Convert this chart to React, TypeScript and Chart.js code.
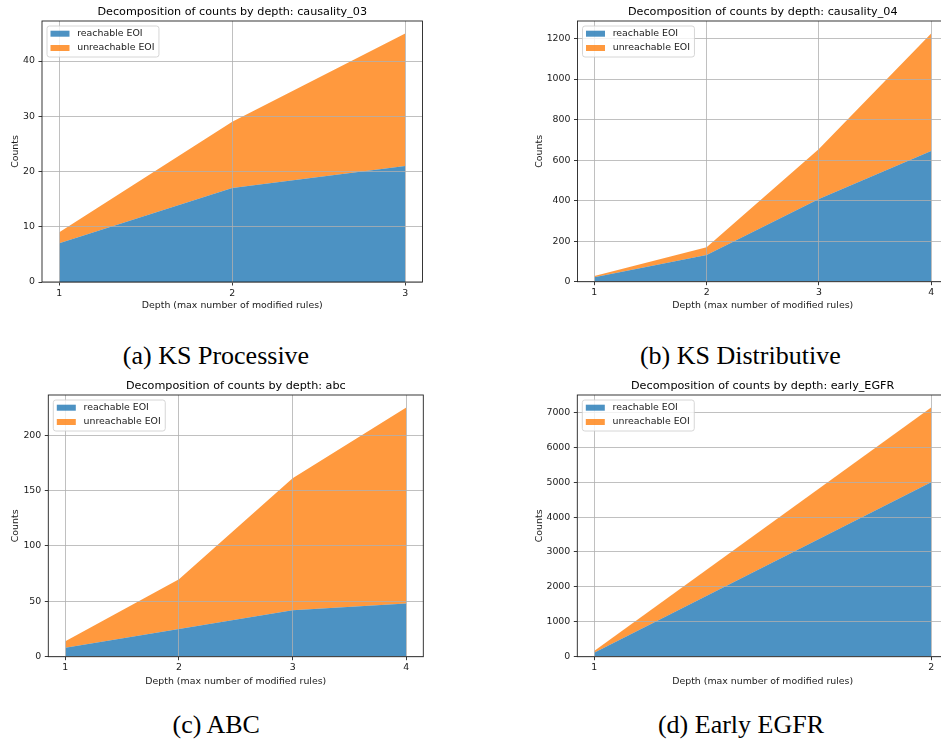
import React, { useEffect, useRef } from "react";
import { Chart, registerables } from "chart.js";

Chart.register(...registerables);

// ---------- data ----------
const SERIES_LABELS = ["reachable EOI", "unreachable EOI"];
const X_TITLE = "Depth (max number of modified rules)";
const Y_TITLE = "Counts";
const TITLE_PREFIX = "Decomposition of counts by depth: ";

// (a) KS Processive
const depthsA = [1, 2, 3];
const reachableA = [7, 17, 21];
const unreachableA = [2, 12, 24];
const yTicksA = [0, 10, 20, 30, 40];

// (b) KS Distributive
const depthsB = [1, 2, 3, 4];
const reachableB = [22, 132, 408, 645];
const unreachableB = [6, 38, 247, 580];
const yTicksB = [0, 200, 400, 600, 800, 1000, 1200];

// (c) ABC
const depthsC = [1, 2, 3, 4];
const reachableC = [8, 25, 42, 48];
const unreachableC = [6, 45, 119, 177];
const yTicksC = [0, 50, 100, 150, 200];

// (d) Early EGFR
const depthsD = [1, 2];
const reachableD = [115, 5000];
const unreachableD = [48, 2140];
const yTicksD = [0, 1000, 2000, 3000, 4000, 5000, 6000, 7000];

const MODEL_NAMES = ["causality_03", "causality_04", "abc", "early_EGFR"];
const CAPTIONS = ["(a) KS Processive", "(b) KS Distributive", "(c) ABC", "(d) Early EGFR"];

// ---------- styling / layout ----------
const FONT = '"DejaVu Sans", "Noto Sans", sans-serif';
const TXT = "#1a1a1a";
const BLUE = "rgba(31,119,180,0.8)";
const ORANGE = "rgba(255,127,14,0.8)";
const SMALL = 9.4;
const TITLE_SIZE = 11.2;
const CAP_SIZE = 26;

type Layout = {
  px: number; py: number; cw: number; ch: number;
  l: number; t: number; r: number; b: number;
  titleMid: number; xTitleMid: number; yTitleMid: number;
  capX: number; capBase: number;
};

const LAYOUTS: Layout[] = [
  { px: 0, py: 0, cw: 470, ch: 322, l: 42, t: 21, r: 422.5, b: 282, titleMid: 12.2, xTitleMid: 305.9, yTitleMid: 15.3, capX: 216, capBase: 364.5 },
  { px: 470, py: 0, cw: 480, ch: 322, l: 577.5, t: 21, r: 948, b: 281.7, titleMid: 12.2, xTitleMid: 305.9, yTitleMid: 539.1, capX: 740.3, capBase: 364.5 },
  { px: 0, py: 370, cw: 470, ch: 330, l: 48.3, t: 395, r: 423.3, b: 656.7, titleMid: 386.2, xTitleMid: 681.3, yTitleMid: 15.3, capX: 216.2, capBase: 733.8 },
  { px: 470, py: 370, cw: 480, ch: 330, l: 577.3, t: 395, r: 948, b: 656.7, titleMid: 386.2, xTitleMid: 681.3, yTitleMid: 539.1, capX: 741, capBase: 733.8 },
];

const PANEL_DATA = [
  { depths: depthsA, reachable: reachableA, unreachable: unreachableA, yTicks: yTicksA },
  { depths: depthsB, reachable: reachableB, unreachable: unreachableB, yTicks: yTicksB },
  { depths: depthsC, reachable: reachableC, unreachable: unreachableC, yTicks: yTicksC },
  { depths: depthsD, reachable: reachableD, unreachable: unreachableD, yTicks: yTicksD },
];

const framePlugin = {
  id: "frame",
  afterDraw(chart: any) {
    const { ctx, chartArea } = chart;
    ctx.save();
    ctx.strokeStyle = "#222";
    ctx.lineWidth = 0.9;
    ctx.strokeRect(chartArea.left, chartArea.top, chartArea.right - chartArea.left, chartArea.bottom - chartArea.top);
    ctx.restore();
  },
};

const legendPlugin = {
  id: "boxLegend",
  afterDraw(chart: any) {
    const { ctx, chartArea } = chart;
    const ds = chart.data.datasets;
    ctx.save();
    ctx.font = `${SMALL}px ${FONT}`;
    const tw = Math.max(...ds.map((d: any) => ctx.measureText(d.label).width));
    const x0 = chartArea.left + 5;
    const y0 = chartArea.top + 5;
    const patchW = 19;
    const w = 3.5 + patchW + 7.7 + tw + 4.5;
    const h = 31;
    const r = 2.5;
    ctx.beginPath();
    ctx.moveTo(x0 + r, y0);
    ctx.lineTo(x0 + w - r, y0);
    ctx.quadraticCurveTo(x0 + w, y0, x0 + w, y0 + r);
    ctx.lineTo(x0 + w, y0 + h - r);
    ctx.quadraticCurveTo(x0 + w, y0 + h, x0 + w - r, y0 + h);
    ctx.lineTo(x0 + r, y0 + h);
    ctx.quadraticCurveTo(x0, y0 + h, x0, y0 + h - r);
    ctx.lineTo(x0, y0 + r);
    ctx.quadraticCurveTo(x0, y0, x0 + r, y0);
    ctx.closePath();
    ctx.fillStyle = "rgba(255,255,255,0.8)";
    ctx.fill();
    ctx.strokeStyle = "#cccccc";
    ctx.lineWidth = 0.8;
    ctx.stroke();
    ds.forEach((d: any, i: number) => {
      const cy = y0 + 7.7 + i * 14.3;
      ctx.fillStyle = d.backgroundColor;
      ctx.fillRect(x0 + 3.5, cy - 3, patchW, 6);
      ctx.fillStyle = TXT;
      ctx.textBaseline = "middle";
      ctx.textAlign = "left";
      ctx.fillText(d.label, x0 + 3.5 + patchW + 7.7, cy);
    });
    ctx.restore();
  },
};

function Panel({ idx }: { idx: number }) {
  const ref = useRef<HTMLCanvasElement>(null);
  const L = LAYOUTS[idx];
  const D = PANEL_DATA[idx];

  useEffect(() => {
    const totals = D.reachable.map((v, i) => v + D.unreachable[i]);
    const n = D.depths.length;
    const span = D.depths[n - 1] - D.depths[0];
    const titleLH = TITLE_SIZE * 1.2;
    const smallLH = SMALL * 1.2;
    const canvasBottom = L.py + L.ch;

    const chart = new Chart(ref.current as HTMLCanvasElement, {
      type: "line",
      data: {
        datasets: [
          {
            label: SERIES_LABELS[0],
            data: D.depths.map((x, i) => ({ x, y: D.reachable[i] })),
            backgroundColor: BLUE,
            borderColor: "rgba(0,0,0,0)",
            borderWidth: 0,
            pointRadius: 0,
            tension: 0,
            fill: "origin",
          },
          {
            label: SERIES_LABELS[1],
            data: D.depths.map((x, i) => ({ x, y: D.unreachable[i] })),
            backgroundColor: ORANGE,
            borderColor: "rgba(0,0,0,0)",
            borderWidth: 0,
            pointRadius: 0,
            tension: 0,
            fill: "-1",
          },
        ],
      },
      options: {
        animation: false,
        responsive: false,
        devicePixelRatio: 1,
        events: [],
        layout: { padding: { left: 0, top: 0, right: L.px + L.cw - L.r, bottom: 0 } },
        plugins: {
          legend: { display: false },
          tooltip: { enabled: false },
          title: {
            display: true,
            text: TITLE_PREFIX + MODEL_NAMES[idx],
            fullSize: false,
            color: "#000",
            font: { family: FONT, size: TITLE_SIZE, weight: "normal" },
            padding: { top: L.titleMid - L.py - titleLH / 2, bottom: L.t - L.titleMid - titleLH / 2 },
          },
        },
        scales: {
          x: {
            type: "linear",
            min: D.depths[0] - 0.05 * span,
            max: D.depths[n - 1] + 0.05 * span,
            afterBuildTicks: (s: any) => {
              s.ticks = D.depths.map((v) => ({ value: v }));
            },
            afterFit: (s: any) => {
              s.height = canvasBottom - L.b;
            },
            ticks: {
              autoSkip: false,
              maxRotation: 0,
              padding: 2.0,
              color: TXT,
              font: { family: FONT, size: SMALL },
              callback: (v: any) => String(v),
            },
            grid: { z: 1, color: "#b0b0b0", lineWidth: 0.8, tickColor: "#222", tickLength: 3.5, tickWidth: 0.9 },
            border: { display: false },
            title: {
              display: true,
              text: X_TITLE,
              color: TXT,
              font: { family: FONT, size: SMALL },
              padding: { top: 0, bottom: canvasBottom - L.xTitleMid - smallLH / 2 },
            },
          },
          y: {
            type: "linear",
            stacked: true,
            min: 0,
            max: Math.max(...totals) * 1.05,
            afterBuildTicks: (s: any) => {
              s.ticks = D.yTicks.map((v) => ({ value: v }));
            },
            afterFit: (s: any) => {
              s.width = L.l - L.px;
            },
            ticks: {
              padding: 3.5,
              color: TXT,
              font: { family: FONT, size: SMALL },
              callback: (v: any) => String(v),
            },
            grid: { z: 1, color: "#b0b0b0", lineWidth: 0.8, tickColor: "#222", tickLength: 3.5, tickWidth: 0.9 },
            border: { display: false },
            title: {
              display: true,
              text: Y_TITLE,
              color: TXT,
              font: { family: FONT, size: SMALL },
              padding: { top: L.yTitleMid - L.px - smallLH / 2, bottom: 0 },
            },
          },
        },
      } as any,
      plugins: [framePlugin, legendPlugin],
    });
    return () => chart.destroy();
  }, []);

  return (
    <canvas
      ref={ref}
      width={L.cw}
      height={L.ch}
      style={{ position: "absolute", left: L.px, top: L.py, width: L.cw, height: L.ch }}
    />
  );
}

function Caption({ idx }: { idx: number }) {
  const L = LAYOUTS[idx];
  return (
    <div
      style={{
        position: "absolute",
        left: L.capX,
        top: L.capBase - 21.8,
        transform: "translateX(-50%)",
        fontFamily: '"Liberation Serif", "Times New Roman", serif',
        fontSize: CAP_SIZE,
        lineHeight: CAP_SIZE + "px",
        whiteSpace: "nowrap",
        color: "#000",
      }}
    >
      {CAPTIONS[idx]}
    </div>
  );
}

export default function App() {
  return (
    <div
      style={{
        position: "absolute",
        left: 0,
        top: 0,
        width: 941,
        height: 740,
        overflow: "hidden",
        background: "#fff",
      }}
    >
      {[0, 1, 2, 3].map((i) => (
        <Panel key={"p" + i} idx={i} />
      ))}
      {[0, 1, 2, 3].map((i) => (
        <Caption key={"c" + i} idx={i} />
      ))}
    </div>
  );
}
